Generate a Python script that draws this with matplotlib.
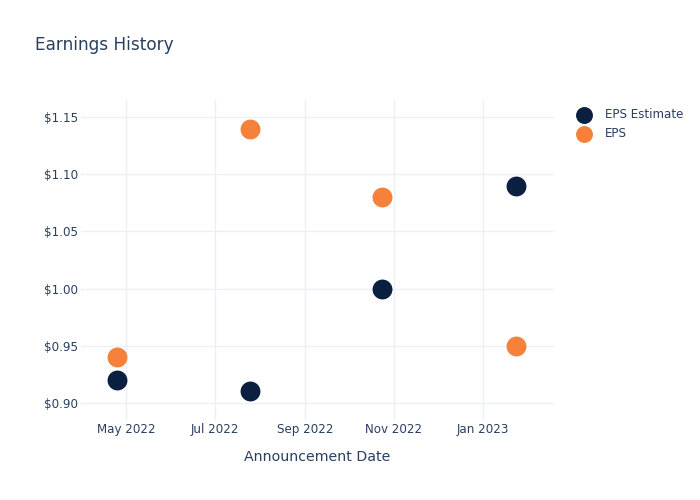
import matplotlib
matplotlib.use("Agg")
import matplotlib.pyplot as plt
import matplotlib.dates as mdates
import numpy as np
from datetime import datetime

dates = ["2022-04-25", "2022-07-25", "2022-10-24", "2023-01-24"]
eps_estimate = [0.92, 0.91, 1.00, 1.09]
eps_actual = [0.94, 1.14, 1.08, 0.95]
y_ticks = [0.90, 0.95, 1.00, 1.05, 1.10, 1.15]
x_ticks = ["2022-05-01", "2022-07-01", "2022-09-01", "2022-11-01", "2023-01-01"]

TEXT = "#2a3f5f"
GRID = "#ebf0f8"
NAVY = "#0b1f41"
ORANGE = "#f5813a"

x = [datetime.strptime(d, "%Y-%m-%d") for d in dates]
xt = [datetime.strptime(d, "%Y-%m-%d") for d in x_ticks]

fig = plt.figure(figsize=(7, 5), dpi=100)
ax = fig.add_axes([81/700, 80/500, 473/700, 320/500])

ax.scatter(x, eps_estimate, s=205, color=NAVY, label="EPS Estimate", zorder=3, linewidths=0)
ax.scatter(x, eps_actual, s=205, color=ORANGE, label="EPS", zorder=3, linewidths=0)

ax.set_xlim(datetime(2022, 3, 31), datetime(2023, 2, 19))
ax.set_ylim(0.885, 1.165)
ax.set_yticks(y_ticks)
ax.set_yticklabels([f"${v:.2f}" for v in y_ticks])
ax.set_xticks(xt)
ax.set_xticklabels([d.strftime("%b %Y") for d in xt])

ax.grid(True, color=GRID, linewidth=1)
ax.set_axisbelow(True)
for s in ax.spines.values():
    s.set_visible(False)
ax.tick_params(length=0, colors=TEXT, labelsize=8.6)
ax.tick_params(axis="x", pad=2)
ax.tick_params(axis="y", pad=2)

ax.set_xlabel("Announcement Date", color=TEXT, fontsize=10.2, labelpad=10)

fig.text(35/700, 1 - 44.5/500, "Earnings History", color=TEXT, fontsize=12.2, va="center", ha="left")

leg = ax.legend(loc="upper left", bbox_to_anchor=(567/700, 1 - 103/500), bbox_transform=fig.transFigure,
                frameon=False, fontsize=8.6, labelcolor=TEXT, handletextpad=0.75, borderaxespad=0,
                labelspacing=0.55, markerscale=0.85)

fig.savefig("out.png", dpi=100)
